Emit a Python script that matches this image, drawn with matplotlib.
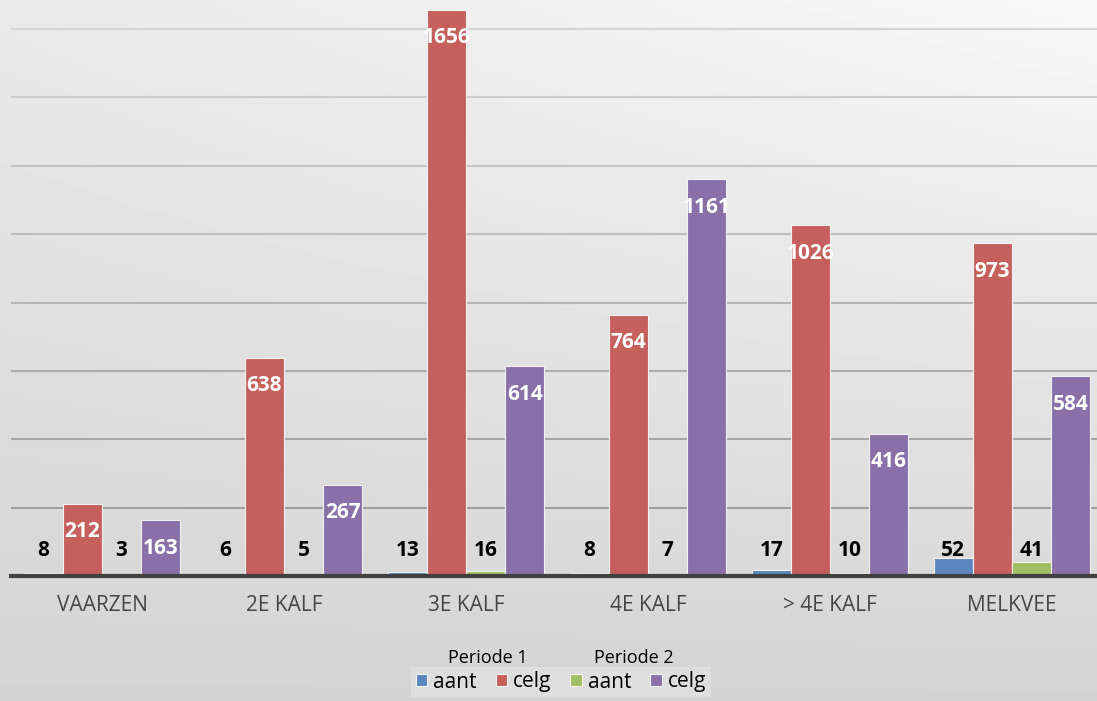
import numpy as np
from matplotlib import pyplot as plt

plt.rcParams['font.family'] = ['Open Sans', 'DejaVu Sans']

# data
categories = ['VAARZEN', '2E KALF', '3E KALF', '4E KALF', '> 4E KALF', 'MELKVEE']
aant_p1 = [8, 6, 13, 8, 17, 52]
celg_p1 = [212, 638, 1656, 764, 1026, 973]
aant_p2 = [3, 5, 16, 7, 10, 41]
celg_p2 = [163, 267, 614, 1161, 416, 584]

series = [aant_p1, celg_p1, aant_p2, celg_p2]
names = ['aant', 'celg', 'aant', 'celg']
colors = ['#5b87c0', '#c6605d', '#a0bf62', '#8a70a8']

W, H = 1097, 701
fig = plt.figure(figsize=(W/100, H/100), dpi=100)

# gradient background
bg = fig.add_axes([0, 0, 1, 1], zorder=-10)
yy, xx = np.mgrid[0:1:200j, 0:1:200j]
shade = 0.83 + 0.12*(1-yy)*0.7 + 0.06*xx*(1-yy)
bg.imshow(shade, cmap='gray', vmin=0, vmax=1, aspect='auto', extent=[0, 1, 0, 1])
bg.axis('off')

ax = fig.add_axes([11/W, 1-576/H, 1092/W, 576/H])
ax.patch.set_alpha(0)

x = np.arange(len(categories))
bw = 0.215
for i, (vals, c, nm) in enumerate(zip(series, colors, names)):
	pos = x + (i-1.5)*bw
	ax.bar(pos, vals, bw, color=c, edgecolor='#f2f2f2', linewidth=0.8, label=nm, zorder=3)
	if nm == 'celg':
		for p, v in zip(pos, vals):
			ax.text(p, v-82, str(v), ha='center', va='center', color='white', fontsize=15, fontweight='bold', zorder=4)
	else:
		for p, v in zip(pos, vals):
			ax.text(p, max(v+20, 74), str(v), ha='center', va='center', color='black', fontsize=15, fontweight='bold', zorder=4)

ax.set_xlim(-0.5, len(categories)-0.5)
ax.set_ylim(0, 1685)
ax.set_yticks(np.arange(200, 1700, 200))
ax.yaxis.grid(True, linewidth=1.5, zorder=1)
for k, gl in enumerate(ax.yaxis.get_gridlines()):
	g = 0.62 + 0.03*k
	gl.set_color((g, g, g))
ax.tick_params(axis='y', left=False, labelleft=False)
ax.set_xticks(x)
ax.set_xticklabels(categories, fontsize=15, color='#454545')
ax.tick_params(axis='x', length=0, pad=14)
for s in ['top', 'right', 'left']:
	ax.spines[s].set_visible(False)
ax.spines['bottom'].set_color('#404040')
ax.spines['bottom'].set_linewidth(3)
ax.spines['bottom'].set_zorder(5)

leg = fig.legend(loc='center', bbox_to_anchor=(561/W, 1-682/H), ncol=4, fontsize=15,
	handlelength=0.55, handleheight=0.55, handletextpad=0.3, columnspacing=0.9,
	frameon=True, fancybox=False, borderpad=0.2)
leg.get_frame().set_facecolor('#dedede')
leg.get_frame().set_edgecolor('none')
leg.get_frame().set_alpha(1)
fig.text(488/W, 1-658/H, 'Periode 1', ha='center', va='center', fontsize=13)
fig.text(634/W, 1-658/H, 'Periode 2', ha='center', va='center', fontsize=13)

fig.savefig('out.png', dpi=100)
